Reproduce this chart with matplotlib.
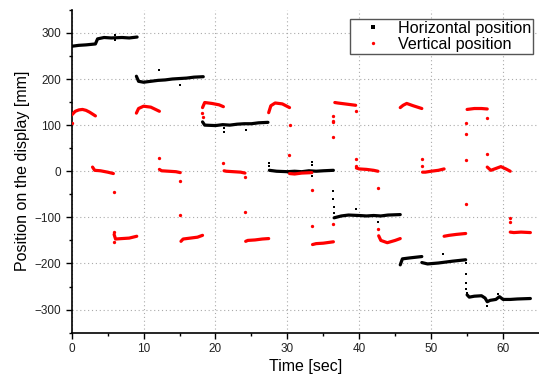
import numpy as np
import matplotlib
matplotlib.use('Agg')
import matplotlib.pyplot as plt
from matplotlib.lines import Line2D

nan = np.nan

# Horizontal position: held segments (separated by nan) and isolated samples
h_time = [0, 1.0, 2.0, 3.3, 3.6, 4.5, 5.5, 7.0, 8.0, 9.1, nan,
          9.0, 9.3, 10, 11, 12, 13, 14, 15, 16, 17, 18.3, nan,
          18.2, 18.5, 20, 21, 22, 23, 24, 25, 26, 27.3, nan,
          27.5, 28.5, 30, 31, 32, 33, 34, 35, 36.4, nan,
          36.5, 37.5, 38.5, 40, 41, 42, 43, 44, 45.7, nan,
          45.7, 46.0, 47, 48.7, nan,
          48.7, 49.5, 51, 52, 53, 54.8, nan,
          55.0, 55.3, 56, 57, 57.5, 57.8, 58.2, 59, 59.5, 60, 61, 62, 63.8]
h_pos = [271, 273, 274, 276, 287, 290, 289, 290, 289, 291, nan,
         206, 195, 193, 195, 197, 198, 200, 201, 202, 204, 205, nan,
         107, 100, 99, 101, 100, 102, 103, 103, 105, 106, nan,
         2, 0, -1, 0, -1, 1, 0, 1, 2, nan,
         -101, -97, -95, -96, -97, -96, -97, -95, -94, nan,
         -203, -190, -188, -185, nan,
         -198, -201, -199, -197, -195, -192, nan,
         -268, -273, -271, -270, -275, -283, -280, -278, -272, -278, -278, -277, -276]
h_out_time = [6.0, 6.0, 12.1, 15.1, 21.2, 21.2, 24.3, 27.4, 27.4, 33.4, 33.4,
              33.4, 36.4, 36.4, 36.5, 36.5, 39.5, 42.6, 51.7, 54.8, 54.8,
              54.9, 54.9, 55.0, 57.8, 59.3]
h_out_pos = [295, 284, 219, 188, 86, 93, 89, 17, 12, 20, 14,
             -10, -43, -60, -77, -90, -82, -110, -179, -200, -223,
             -243, -256, -264, -292, -266]

# Vertical position
v_time = [0, 0.5, 1.0, 1.5, 2.0, 2.5, 3.0, 3.3, nan,
          2.9, 3.2, 4, 5, 5.8, nan,
          5.9, 6.1, 7, 8, 9.05, nan,
          9.0, 9.3, 10, 11, 12.2, nan,
          12.2, 12.5, 13.5, 14.5, 15.1, nan,
          15.2, 15.5, 16.5, 17.5, 18.2, nan,
          18.2, 18.5, 19.5, 20.5, 21.1, nan,
          21.2, 21.5, 22.5, 23.5, 24.1, nan,
          24.2, 24.5, 25.5, 26.5, 27.4, nan,
          27.4, 27.7, 28.3, 29.3, 30.3, nan,
          30.3, 31, 32, 33.4, nan,
          33.5, 34, 35, 36.4, nan,
          36.6, 37, 38, 39, 39.5, nan,
          39.6, 40, 41, 42, 42.6, nan,
          42.7, 43, 43.9, 45, 45.7, nan,
          45.7, 46.1, 46.6, 47.5, 48.7, nan,
          48.8, 49.2, 50, 51, 51.8, nan,
          51.8, 52.5, 53.5, 54.8, nan,
          55.0, 56, 57, 57.8, nan,
          57.8, 58.3, 59, 59.7, 60.4, 61, nan,
          61, 61.5, 62.5, 63.8]
v_pos = [122, 130, 133, 134, 132, 128, 123, 120, nan,
         9, 2, 1, -2, -5, nan,
         -137, -147, -146, -145, -141, nan,
         126, 136, 141, 139, 130, nan,
         4, 1, 0, -1, -3, nan,
         -152, -147, -145, -143, -139, nan,
         138, 149, 147, 144, 140, nan,
         1, 0, -1, -2, -4, nan,
         -152, -150, -149, -147, -146, nan,
         127, 142, 148, 146, 138, nan,
         -5, -6, -4, -3, nan,
         -159, -157, -156, -153, nan,
         149, 148, 146, 144, 143, nan,
         7, 5, 4, 2, 0, nan,
         -140, -150, -155, -150, -146, nan,
         138, 143, 147, 142, 136, nan,
         -2, -2, 0, 2, 5, nan,
         -141, -139, -137, -135, nan,
         134, 136, 136, 135, nan,
         9, 2, 6, 10, 5, 0, nan,
         -132, -133, -132, -133]
v_out_time = [0, 5.9, 5.9, 5.9, 12.1, 15.0, 15.1, 18.2, 18.1, 21.1, 24.1, 24.1,
              30.2, 30.3, 33.4, 33.4, 36.4, 36.4, 36.4, 36.4, 36.4, 39.5,
              39.5, 39.5, 42.6, 42.6, 48.7, 48.7, 54.8, 54.8, 54.8, 54.8,
              57.8, 57.8, 61, 61]
v_out_pos = [105, -45, -153, -132, 29, -22, -94, 118, 127, 17, -12, -89,
             36, 101, -40, -118, 109, 120, 106, 75, -114, 130,
             27, 12, -36, -125, 27, 12, 105, 80, 25, -72,
             116, 38, -101, -110]

fig = plt.figure(figsize=(5.39, 3.78), dpi=100)
plt.rcParams['font.family'] = ['Liberation Sans', 'DejaVu Sans']
ax = fig.add_axes([0.133, 0.12, 0.867, 0.854])

ax.plot(h_time, h_pos, color='black', lw=2.3, solid_capstyle='round', zorder=3)
ax.plot(h_out_time, h_out_pos, 's', color='black', ms=1.9, mew=0, zorder=3)
ax.plot(v_time, v_pos, color='red', lw=2.3, solid_capstyle='round', zorder=4)
ax.plot(v_out_time, v_out_pos, 'o', color='red', ms=2.4, mew=0, zorder=4)

ax.set_xlim(0, 65)
ax.set_ylim(-350, 350)
ax.set_xticks(np.arange(0, 61, 10))
ax.set_xticks(np.arange(5, 65, 10), minor=True)
ax.set_yticks(np.arange(-300, 301, 100))
ax.set_yticks(np.arange(-350, 351, 100), minor=True)
ax.tick_params(which='major', direction='out', length=4, width=1, labelsize=8.5,
               labelcolor='#222222')
ax.tick_params(which='minor', direction='out', length=2.5, width=1)
ax.grid(True, which='major', linestyle=(0, (1, 2.5)), color='#aaaaaa', lw=0.8)
ax.set_axisbelow(True)
for s in ['top', 'right']:
    ax.spines[s].set_visible(False)
for s in ['left', 'bottom']:
    ax.spines[s].set_linewidth(1.2)

ax.set_xlabel('Time [sec]', fontsize=11.5, labelpad=3)
ax.set_ylabel('Position on the display [mm]', fontsize=11.5, labelpad=3)

handles = [Line2D([], [], ls='none', marker='s', color='black', ms=2.2, mew=0),
           Line2D([], [], ls='none', marker='o', color='red', ms=2.4, mew=0)]
leg = ax.legend(handles, ['Horizontal position', 'Vertical position'],
                loc='upper right', bbox_to_anchor=(0.987, 0.972), fontsize=11.6,
                frameon=True, fancybox=False, framealpha=1, edgecolor='#555555',
                borderpad=0.12, labelspacing=0.08, handletextpad=0.25,
                handlelength=2.6, borderaxespad=0)
leg.get_frame().set_linewidth(1.0)

fig.savefig('out.png', dpi=100)
